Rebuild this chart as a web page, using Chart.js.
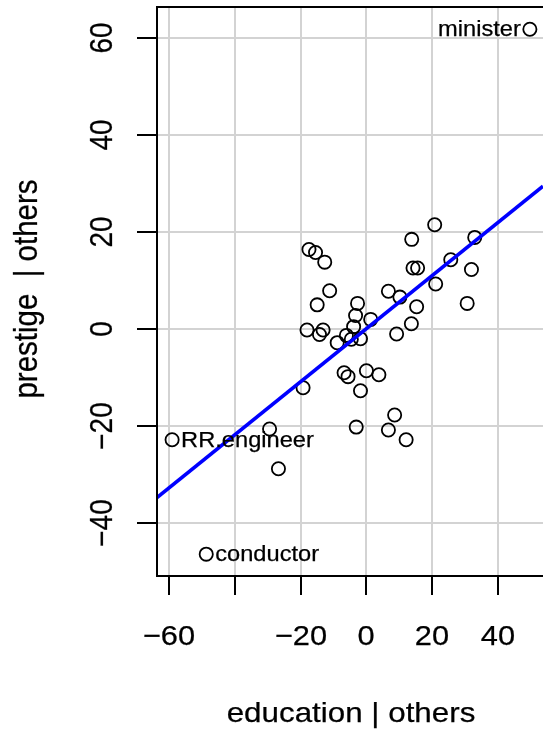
<!DOCTYPE html>
<html>
<head>
<meta charset="utf-8">
<script src="https://cdn.jsdelivr.net/npm/chart.js@4"></script>
<style>
  html, body { margin: 0; padding: 0; background: #ffffff; overflow: hidden; }
  canvas { display: block; }
</style>
</head>
<body>
<canvas id="graficoAV" width="543" height="734"></canvas>
<script>
// === Dados: residuos de education e prestige contra os outros regressores ===
const educacao = [20.8, 13.8, 33.0, -17.5, -15.5, -12.7, 25.7, 14.2, 15.6, 32.0,
    -11.2, 6.7, 10.2, 21.1, 30.7, -15.0, -2.7, 15.3, -3.3, 1.3,
    -3.9, 13.7, -18.1, -13.2, -14.3, 9.2, -6.1, -4.6, -1.8, -8.9,
    -6.8, -5.6, 0.0, 3.8, -19.3, -1.8, 8.6, -3.1, 6.7, 12.1,
    -29.5, -26.8, -59.2, -48.8, 49.8];
const prestigio = [21.4, 18.4, 18.8, 16.3, 15.7, 13.7, 14.2, 12.5, 12.5, 12.2,
    7.8, 7.7, 6.5, 9.2, 5.2, 4.9, 5.2, 4.5, 2.7, 1.9,
    0.4, 1.0, -0.3, -0.3, -1.2, -1.1, -1.4, -2.2, -2.1, -2.9,
    -9.1, -9.9, -8.7, -9.5, -12.2, -12.8, -17.8, -20.3, -20.9, -22.9,
    -20.7, -28.9, -22.9, -46.5, 61.7];
const nomes = ["", "", "", "", "", "", "", "", "", "",
    "", "", "", "", "", "", "", "", "", "",
    "", "", "", "", "", "", "", "", "", "",
    "", "", "", "", "", "", "", "", "", "",
    "", "", "RR.engineer", "conductor", "minister"];

const inclinacao = 0.5458; // coeficiente de education
const limitesX = [-63.8, 53.8];
const limitesY = [-51.0, 66.3];
const ticksX = [-60, -40, -20, 0, 20, 40];
const rotulosX = ["\u221260", "", "\u221220", "0", "20", "40"];
const ticksY = [-40, -20, 0, 20, 40, 60];
const rotulosY = ["\u221240", "\u221220", "0", "20", "40", "60"];

const FONTE = '"Liberation Sans", Arial, sans-serif';
const LARGURA = 1.1; // fonte do R sai um pouco mais larga

// reta ajustada nas extremidades do eixo x
const reta = limitesX.map(x => ({ x: x, y: inclinacao * x }));
const pontos = educacao.map((x, i) => ({ x: x, y: prestigio[i] }));

// texto com traco fino por cima (girado = true -> de baixo para cima)
function escreve(ctx, texto, x, y, girado) {
    ctx.save();
    ctx.translate(x, y);
    ctx.scale(LARGURA, 1);
    if (girado) ctx.rotate(-Math.PI / 2);
    ctx.lineWidth = 0.25;
    ctx.strokeStyle = ctx.fillStyle;
    ctx.fillText(texto, 0, 0);
    ctx.strokeText(texto, 0, 0);
    ctx.restore();
}

// === Eixos no estilo do R: caixa, tracos, rotulos e titulos ===
const eixosR = {
    id: "eixosR",
    afterDraw(chart) {
        const ctx = chart.ctx;
        const a = chart.chartArea;
        const sx = chart.scales.x;
        const sy = chart.scales.y;
        ctx.save();
        ctx.strokeStyle = "#000000";
        ctx.fillStyle = "#000000";
        ctx.lineWidth = 2;

        // caixa (o lado direito fica fora da tela)
        ctx.beginPath();
        ctx.moveTo(a.right + 2, a.top);
        ctx.lineTo(a.left, a.top);
        ctx.lineTo(a.left, a.bottom);
        ctx.lineTo(a.right + 2, a.bottom);
        ctx.stroke();

        // eixo x
        ctx.font = "28px " + FONTE;
        ctx.textAlign = "center";
        ctx.textBaseline = "alphabetic";
        ticksX.forEach((v, i) => {
            const x = Math.round(sx.getPixelForValue(v));
            ctx.beginPath();
            ctx.moveTo(x, a.bottom);
            ctx.lineTo(x, a.bottom + 19);
            ctx.stroke();
            if (rotulosX[i]) escreve(ctx, rotulosX[i], x, 645, false);
        });

        // eixo y (rotulos girados)
        ticksY.forEach((v, i) => {
            const y = Math.round(sy.getPixelForValue(v));
            ctx.beginPath();
            ctx.moveTo(a.left - 20, y);
            ctx.lineTo(a.left, y);
            ctx.stroke();
            escreve(ctx, rotulosY[i], 112, y, true);
        });

        // titulos
        ctx.font = "28.5px " + FONTE;
        escreve(ctx, "education | others", 351, 722, false);
        ctx.font = "29.5px " + FONTE;
        escreve(ctx, "prestige  | others", 37, 289, true);

        ctx.restore();
    }
};

// === Nomes dos pontos destacados ===
const nomesPontos = {
    id: "nomesPontos",
    afterDatasetsDraw(chart) {
        const ctx = chart.ctx;
        const meta = chart.getDatasetMeta(1);
        ctx.save();
        ctx.font = "21.5px " + FONTE;
        ctx.fillStyle = "#000000";
        ctx.textBaseline = "middle";
        nomes.forEach((nome, i) => {
            if (!nome) return;
            const p = meta.data[i];
            if (educacao[i] > 0) {
                ctx.textAlign = "right";
                escreve(ctx, nome, p.x - 9, p.y + 1, false);
            } else {
                ctx.textAlign = "left";
                escreve(ctx, nome, p.x + 9, p.y + 1, false);
            }
        });
        ctx.restore();
    }
};

const chartAV = new Chart(document.getElementById("graficoAV"), {
    type: "scatter",
    data: {
        datasets: [
            {
                type: "line",
                label: "ajuste",
                data: reta,
                borderColor: "#0000ff",
                borderWidth: 3.6,
                pointRadius: 0,
                fill: false,
                order: 0
            },
            {
                label: "ocupacoes",
                data: pontos,
                pointStyle: "circle",
                pointRadius: 6.6,
                pointBorderWidth: 1.8,
                pointBorderColor: "#000000",
                pointBackgroundColor: "rgba(0,0,0,0)",
                order: 1
            }
        ]
    },
    options: {
        responsive: false,
        animation: false,
        events: [],
        layout: { autoPadding: false, padding: { left: 157, top: 7, right: 0, bottom: 158 } },
        plugins: {
            legend: { display: false },
            tooltip: { enabled: false }
        },
        scales: {
            x: {
                type: "linear",
                min: limitesX[0],
                max: limitesX[1],
                afterBuildTicks: s => { s.ticks = ticksX.map(v => ({ value: v })); },
                ticks: { display: false },
                border: { display: false },
                grid: { color: "#d3d3d3", lineWidth: 2, drawTicks: false }
            },
            y: {
                type: "linear",
                min: limitesY[0],
                max: limitesY[1],
                afterBuildTicks: s => { s.ticks = ticksY.map(v => ({ value: v })); },
                ticks: { display: false },
                border: { display: false },
                grid: { color: "#d3d3d3", lineWidth: 2, drawTicks: false }
            }
        }
    },
    plugins: [eixosR, nomesPontos]
});
</script>
</body>
</html>
